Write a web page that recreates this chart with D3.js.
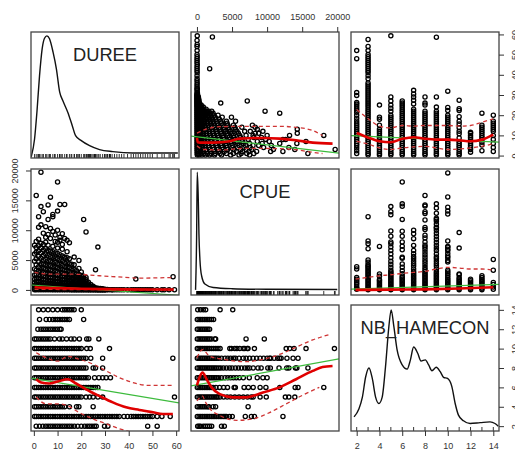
<!DOCTYPE html>
<html><head><meta charset="utf-8">
<script src="https://cdn.jsdelivr.net/npm/d3@7"></script>
<style>body{margin:0;background:#fff}svg{display:block}text{font-family:"Liberation Sans",Arial,sans-serif}</style>
</head><body><svg id="c" width="515" height="450"></svg>
<script>
const varNames = ["DUREE","CPUE","NB_HAMECON"];
const dureeTicks = [0,10,20,30,40,50,60];
const cpueTicks = [0,5000,10000,15000,20000];
const nbTicks = [2,4,6,8,10,12,14];

// DUREE values observed at each NB_HAMECON level
const dureeByNb = [
 [14,[2,4,6,8,10,12,13,14,15,16,17,20]],
 [13,[2.4,5.2,6.6,8,9,10,11,12,13,14,15,21]],
 [12,[1.7,3,4,5,6,7,8,9,10,11,11.5]],
 [11,[0.3,1,2,3,4,5,6,7,8.7,10.8,12,13.8,15.7,17,19.2,22.3,23.2,27.4]],
 [10,[0.3,1,2,3,4,5,6,7,8,9,10,11,12,13,14,15,16,17,18,19,20,22.3,23.8,31.9]],
 [9,[0.3,1,2,3,4,5,6,7,8,9,10,11,12,13,14,15,16,17,18,19,20,21,22,24,29,58.6]],
 [8,[0.3,1,2,3,4,5,6,7,8,9,10,11,12,13,14,15,16,17,18,19,20,21,22,25,26,29]],
 [7,[0.3,1,2,3,4,5,6,7,8,9,10,11,12,13,14,15,16,17,18,19,20,21,22,23,25.6,27.4,29,30.5,32.3]],
 [6,[0.3,1,2,3,4,5,6,7,8,9,10,11,12,13,14,15,16,17,18,19,20,21,22,23,24,25,26,27]],
 [5,[0.3,1,2,3,4,5,6,7,8,9,10,11,12,13,14,15,16,17,18,19,20,22,23.5,25,27,29,59.3]],
 [4,[0.3,1,2,3,4,5,6,7,8,9,10,11,12,13,15,18,19,25]],
 [3,[0.3,1,2,3,4,5,6,7,8,9,10,11,12,13,14,15,16,17,18,19,20,21,22,23,24,25,26,27,28,29,30,31,32,33,34,35,36,38,39.5,41,42,43,44,45,46,47,48,49,50,52,54,57.5]],
 [2,[1,2.4,3.8,5,6,7,8,9,10,11,12,13,14,15,16,17.1,18.5,20,21.4,22.5,23.5,24.5,25.5,26.3,29.8,31.2,48,52]]
];

// CPUE values observed at each DUREE value
const cpueByDuree = [
 [0.3,[50,300,700,1200,1800,2500,3500,4800,6000,7500]],
 [1,[30,250,600,1000,1500,2000,2600,3300,4200,5200,6300,7100,8100,15810]],
 [2,[20,200,500,900,1400,1900,2500,3100,3900,4700,5600,6500,7400,8500,10500,12250]],
 [3,[10,150,450,850,1300,1800,2400,3000,3700,4400,5300,6200,7000,7800,10900,13950,19700]],
 [4,[10,150,400,800,1200,1700,2300,2900,3600,4300,5000,5800,6700,7600,9500,13100]],
 [5,[10,120,380,750,1150,1650,2200,2800,3500,4200,5100,6000,6900,8000,8800,10600]],
 [6,[10,100,350,700,1100,1600,2100,2700,3400,4100,4900,5800,6600,7500,9300,11800,14240]],
 [7,[10,100,350,700,1100,1550,2050,2650,3300,4000,4800,5600,6500,8600,10300,15540]],
 [8,[10,90,330,650,1050,1500,2000,2600,3200,3900,4700,5500,6400,7300,9800,12250,12650]],
 [9,[10,90,300,600,1000,1450,1950,2500,3100,3800,4600,5300,6200,8100,9200]],
 [10,[10,80,280,580,950,1400,1900,2400,3000,3700,4400,5200,6100,7000,8000,10000,13200,18080]],
 [11,[10,80,260,550,900,1350,1800,2300,2900,3500,4300,5000,5900,8300,8800,14300]],
 [12,[10,70,240,520,860,1300,1750,2250,2800,3400,4100,4800,5700,6800,7600,9400]],
 [13,[10,70,220,500,830,1250,1700,2200,2700,3300,3900,4600,5500,8600,14300]],
 [14,[10,60,200,470,800,1200,1650,2100,2600,3200,3800,4500,5400,6400,8300]],
 [15,[10,60,180,450,770,1150,1600,2050,2500,3000,3700,4400,5200,7900]],
 [16,[10,50,160,420,740,1100,1500,1950,2400,2900,3500,4300]],
 [17,[10,50,150,400,700,1050,1450,1900,2300,2800,3400,4200,5500]],
 [18,[10,40,140,380,670,1000,1400,1800,2200,2700,3200]],
 [19,[10,40,130,350,640,950,1300,1700,2100,2600,3600,4915]],
 [20,[10,30,120,320,600,900,1250,1600,2000,2400,3000]],
 [21,[10,30,110,300,560,850,1200,1500,1900,2300,11800]],
 [22,[10,30,100,280,520,800,1100,1400,1700,2100,9710]],
 [23,[10,30,90,250,480,700,1000,1300]],
 [24,[10,20,80,220,430,650,900]],
 [25,[10,20,70,200,400,600]],
 [26,[10,20,60,180,350,3390]],
 [27,[10,20,50,150,300,7170]],
 [28,[10,20,40,130,250]],
 [29,[10,20,40,110,200]],
 [30,[10,20,30,100]],
 [31,[10,60]],[32,[20]],[33,[10,40]],[34,[20]],[35,[10]],[36,[30]],[37,[10]],[38,[20]],
 [39.5,[10]],[41,[30]],[42,[10]],[43,[20,1810]],[44,[10]],[45,[40]],[46,[10]],[47,[20]],
 [48,[10]],[49,[30]],[50,[10]],[52,[20]],[54,[10]],[55,[30]],[57,[10]],[58.7,[2200]],[59.3,[40]]
];

// CPUE values observed at each NB_HAMECON level
const cpueByNb = [
 [2,[100,300,500,900,1200,1500,1800,2100,3500,3900]],
 [3,[50,300,550,800,1050,1300,1550,1800,2050,2300,2550,2800,3050,3300,3550,3800,4000,4200,4630,5030,6890,7750,8190,12260]],
 [4,[50,300,550,800,1050,1300,1550,1700,2300,2660,7290]],
 [5,[50,300,550,800,1050,1300,1550,1800,2050,2300,2550,2800,3000,3300,3800,4300,4800,5400,6000,6600,7200,7740,8020,9000,9880,12600,13100,13950]],
 [6,[50,300,550,800,1050,1300,1550,1800,2050,2300,2700,3220,3800,4350,5300,5470,6720,7330,8020,9000,9830,11810,14000,14410,18080]],
 [7,[50,300,550,800,1050,1300,1550,1800,2050,2300,2550,2800,3100,3500,4000,4400,4800,5200,5600,6050,6610,7460,8590,9400,10000]],
 [8,[50,300,550,800,1050,1300,1550,1800,2050,2300,2550,2800,3100,3400,3780,4200,4630,5000,5470,5900,6330,6810,7170,7500,8020,8700,9150,10100,10460,11700,12800,13100,14040,14240,15820]],
 [9,[50,300,550,800,1050,1300,1550,1800,2050,2300,2550,2800,3100,3500,4000,4400,4800,5200,5500,6000,6600,7000,7500,8000,8500,9000,9500,10000,10350,10500,11000,11500,11800,12000,12830,13700,14410]],
 [10,[50,300,550,800,1050,1300,1550,1800,2100,2400,2700,3000,3300,4680,4920,5390,5700,6100,6600,6810,7170,7280,8190,12720,13230,13840,15550,19600]],
 [11,[50,300,550,800,1050,1300,1550,1800,2080,2550,2660,7000,9600]],
 [12,[50,300,550,800,1050,1300,1550,1800]],
 [13,[50,300,550,800,1050,1300,1550,1800,2080,2370]],
 [14,[110,500,900,1240,3300,5100]]
];

// linear fits [intercept, slope] (green lines)
const lmDureeOnCpue = [9.3,-0.000397];
const lmCpueOnDuree = [795,-27.7];
const lmDureeOnNb = [10.3,-0.25];
const lmNbOnDuree = [6.91,-0.0409];
const lmCpueOnNb = [25,62.5];
const lmNbOnCpue = [6.26,0.000132];

// smoothers (red solid) and spread lines (red dashed)
const smDureeOnCpue = [[0,8.8],[120,6.6],[425,6.4],[2310,6.4],[4680,7.1],[6100,8.4],[9400,8.7],[11770,8.4],[14130,7.6],[16500,6.4],[19330,5.9]];
const upDureeOnCpue = [[0,11.1],[1500,13.3],[3300,14.3],[7000,14.5],[11800,14.5],[14100,14.0],[16500,12.4],[17900,9.9]];
const loDureeOnCpue = [[0,4.8],[1000,3.0],[3300,2.8],[7000,3.6],[11800,3.4],[14100,2.9],[16500,1.6],[17900,1.0]];

const smCpueOnDuree = [[0.3,500],[3,380],[10,300],[20,200],[30,130],[40,90],[50,70],[59,60]];
const upCpueOnDuree = [[0.3,2930],[6.6,2650],[13.6,2650],[22,2540],[27.7,2370],[34.7,2200],[44.5,1980],[59.3,2090]];
const loCpueOnDuree = [[0.3,100],[20,50],[59,0]];

const smDureeOnNb = [[2,11.2],[2.93,9.1],[4,7.1],[5,6.6],[6,8.3],[7,9.1],[8,8.3],[9,7.9],[10,7.9],[11,7.6],[12,7.1],[13,7.9],[14,10.4]];
const upDureeOnNb = [[2,22.8],[2.9,18.7],[4,14.6],[5,13.7],[6,14.9],[7,14.6],[8,14.9],[9,14.9],[10,14.9],[11,14.6],[12,14.9],[13,16.5],[14,18.2]];
const loDureeOnNb = [[2,7.1],[2.9,5.9],[4,3.8],[5,3],[6,3.8],[7,4.3],[8,4.6],[9,3.8],[10,3],[11,3.3],[12,3.8],[13,4.6],[14,5.9]];

const smNbOnDuree = [[1,6.84],[3.1,6.5],[6.6,6.4],[10.1,6.6],[14.3,6.84],[17.8,6.4],[22,5.8],[27.7,5.1],[33.3,4.45],[38.9,3.94],[44.5,3.67],[50.2,3.43],[54.4,3.26],[58.6,3.26]];
const upNbOnDuree = [[1,9.57],[5.2,9.06],[10.1,8.7],[14.3,9.2],[19.2,8.9],[24.9,8.4],[30.5,7.7],[36.1,7.0],[41.7,6.5],[48.8,6.2],[58.6,6.2]];
const loNbOnDuree = [[1,5.0],[5.2,4.3],[10.1,4.3],[14.3,4.1],[19.2,3.4],[24.9,2.75],[30.5,2.24],[36.1,1.73],[41,1.4]];

const smCpueOnNb = [[1.9,0],[5,50],[8,100],[11,250],[14,450]];
const upCpueOnNb = [[1.9,1810],[2.9,2090],[4,2370],[5,2540],[6,2770],[7,2940],[8,3110],[9,3500],[10,3790],[11,3670],[12,3500],[13,3500],[14,3330]];

const smNbOnCpue = [[0,6.2],[400,7.1],[800,7.52],[1370,6.84],[2080,6.0],[3260,5.3],[5150,4.97],[7040,4.97],[9400,5.48],[11770,6.0],[14130,6.84],[16500,7.7],[17910,8.1],[19330,8.2]];
const upNbOnCpue = [[0,9.06],[800,9.9],[1840,9.2],[3740,8.9],[7040,8.65],[9400,8.9],[11770,9.4],[14130,10.15],[16500,10.9],[19100,11.5]];
const loNbOnCpue = [[0,4.6],[800,5.1],[1130,4.6],[1840,3.8],[3260,3.1],[5630,2.6],[7990,2.75],[10350,3.4],[12720,4.3],[15080,5.2],[17440,6.0]];

// diagonal densities (relative height 0..1)
const densDuree = [[-1.1,-0.015],[0.3,0.134],[1.3,0.361],[2.4,0.666],[3.5,0.891],[4.5,0.98],[5.5,1.0],[6.6,0.975],[8.1,0.863],[9.5,0.723],[10.9,0.527],[12.2,0.457],[14.3,0.359],[16.2,0.246],[17.6,0.162],[20,0.12],[23.5,0.078],[27.7,0.045],[33.3,0.028],[41.7,0.017],[50.2,0.017],[60.7,0.017]];
const densCpue = [[-200,0],[-50,0.45],[40,1.0],[190,0.77],[280,0.48],[430,0.25],[660,0.12],[1130,0.05],[2310,0.02],[5000,0.01],[10000,0.005],[20000,0.003]];
const densNb = [[1.77,0.08],[2.2,0.15],[2.5,0.25],[2.79,0.425],[3.08,0.5],[3.37,0.41],[3.66,0.25],[3.95,0.195],[4.24,0.25],[4.53,0.51],[4.83,0.86],[5.03,1.0],[5.26,0.86],[5.55,0.655],[6.0,0.526],[6.43,0.49],[6.72,0.57],[7.0,0.68],[7.36,0.627],[7.65,0.56],[8.03,0.57],[8.32,0.526],[8.61,0.477],[8.99,0.506],[9.34,0.468],[9.63,0.42],[9.98,0.41],[10.36,0.34],[10.65,0.195],[10.94,0.095],[11.38,0.046],[11.96,0.023],[12.84,0.03],[13.71,0.037],[14.15,0.023],[14.44,0]];

// ---------- drawing ----------
const svg = d3.select("#c");
const colX=[31,191,351], rowY=[32,169,305], W=148, H=126;
const domains=[[-1.2,61.2],[-850,20250],[1.5,14.5]];
const xs=domains.map((d,i)=>d3.scaleLinear().domain(d).range([colX[i],colX[i]+W]));
const ys=domains.map((d,i)=>d3.scaleLinear().domain(d).range([rowY[i]+H,rowY[i]]));

const pDC = cpueByDuree.flatMap(([d,cs])=>cs.map(c=>[d,c]));
const pDN = dureeByNb.flatMap(([n,ds])=>ds.map(d=>[d,n]));
const pCN = cpueByNb.flatMap(([n,cs])=>cs.map(c=>[c,n]));
const swap = a=>a.map(p=>[p[1],p[0]]);

const panels=[
 {r:0,c:1,pts:swap(pDC),lm:lmDureeOnCpue,sm:smDureeOnCpue,up:upDureeOnCpue,lo:loDureeOnCpue},
 {r:1,c:0,pts:pDC,lm:lmCpueOnDuree,sm:smCpueOnDuree,up:upCpueOnDuree,lo:loCpueOnDuree},
 {r:0,c:2,pts:swap(pDN),lm:lmDureeOnNb,sm:smDureeOnNb,up:upDureeOnNb,lo:loDureeOnNb},
 {r:2,c:0,pts:pDN,lm:lmNbOnDuree,sm:smNbOnDuree,up:upNbOnDuree,lo:loNbOnDuree},
 {r:1,c:2,pts:swap(pCN),lm:lmCpueOnNb,sm:smCpueOnNb,up:upCpueOnNb,lo:null},
 {r:2,c:1,pts:pCN,lm:lmNbOnCpue,sm:smNbOnCpue,up:upNbOnCpue,lo:loNbOnCpue}
];

const defs=svg.append("defs");
for(let r=0;r<3;r++)for(let c=0;c<3;c++){
  defs.append("clipPath").attr("id",`cp${r}${c}`).append("rect")
    .attr("x",colX[c]).attr("y",rowY[r]).attr("width",W).attr("height",H);
}

panels.forEach(p=>{
  const x=xs[p.c], y=ys[p.r];
  const g=svg.append("g").attr("clip-path",`url(#cp${p.r}${p.c})`);
  g.selectAll("circle").data(p.pts).join("circle")
    .attr("cx",d=>x(d[0])).attr("cy",d=>y(d[1])).attr("r",2.1)
    .attr("fill","none").attr("stroke","#000").attr("stroke-width",1.3);
  const xd=x.domain();
  g.append("line").attr("x1",x(xd[0])).attr("x2",x(xd[1]))
    .attr("y1",y(p.lm[0]+p.lm[1]*xd[0])).attr("y2",y(p.lm[0]+p.lm[1]*xd[1]))
    .attr("stroke","#3dbb3d").attr("stroke-width",1.2);
  const line=d3.line().x(d=>x(d[0])).y(d=>y(d[1])).curve(d3.curveMonotoneX);
  [p.up,p.lo].forEach(a=>{ if(a) g.append("path").attr("d",line(a)).attr("fill","none")
    .attr("stroke","#cf3535").attr("stroke-width",1.3).attr("stroke-dasharray","4,3"); });
  g.append("path").attr("d",line(p.sm)).attr("fill","none")
    .attr("stroke","#e00000").attr("stroke-width",2.6);
});

// diagonal panels
const dens=[densDuree,densCpue,densNb];
const rugVals=[
  Array.from(new Set(pDN.map(d=>d[0]).concat(pDC.map(d=>d[0])))),
  Array.from(new Set(pDC.map(d=>d[1]).concat(pCN.map(d=>d[0])))),
  nbTicks.concat([3,5,7,9,11,13])
];
const ranges=[
  d3.extent(pDN.map(d=>d[0]).concat(pDC.map(d=>d[0]))),
  d3.extent(pDC.map(d=>d[1]).concat(pCN.map(d=>d[0]))),
  [2,14]
];
for(let i=0;i<3;i++){
  const x=xs[i], y=ys[i];
  const g=svg.append("g").attr("clip-path",`url(#cp${i}${i})`);
  const [mn,mx]=ranges[i];
  const line=d3.line().x(d=>x(d[0])).y(d=>y(mn+d[1]*(mx-mn))).curve(d3.curveMonotoneX);
  g.append("path").attr("d",line(dens[i])).attr("fill","none").attr("stroke","#111").attr("stroke-width",1.4);
  const yb=rowY[i]+H;
  g.selectAll("line.rug").data(rugVals[i]).join("line").attr("class","rug")
    .attr("x1",d=>x(d)).attr("x2",d=>x(d)).attr("y1",yb).attr("y2",yb-4)
    .attr("stroke","#000").attr("stroke-width",0.8);
  svg.append("text").attr("x",colX[i]+W/2).attr("y",rowY[i]+22)
    .attr("text-anchor","middle").attr("dominant-baseline","central")
    .attr("font-size",18.3).attr("fill","#222").text(varNames[i]);
}

// boxes
for(let r=0;r<3;r++)for(let c=0;c<3;c++){
  svg.append("rect").attr("x",colX[c]).attr("y",rowY[r]).attr("width",W).attr("height",H)
    .attr("fill","none").attr("stroke","#444").attr("stroke-width",1.3);
}

// axes
function styleAxis(g){
  g.select(".domain").remove();
  g.selectAll(".tick line").attr("stroke","#333");
  g.selectAll(".tick text").attr("fill","#333").attr("font-size",9)
   .attr("font-family","'Liberation Sans',Arial,sans-serif");
}
const fmt=d3.format("d");
svg.append("g").attr("transform",`translate(0,${rowY[0]})`)
  .call(d3.axisTop(xs[1]).tickValues(cpueTicks).tickFormat(fmt).tickSize(5).tickSizeOuter(0))
  .call(styleAxis).call(g=>g.selectAll(".tick text").attr("y",-15).attr("dy",null).attr("dominant-baseline","central"));
[[0,dureeTicks],[2,nbTicks]].forEach(([c,t])=>{
  svg.append("g").attr("transform",`translate(0,${rowY[2]+H})`)
    .call(d3.axisBottom(xs[c]).tickValues(t).tickFormat(fmt).tickSize(5).tickSizeOuter(0))
    .call(styleAxis).call(g=>g.selectAll(".tick text").attr("y",15).attr("dy",null).attr("dominant-baseline","central"));
});
svg.append("g").attr("transform",`translate(${colX[0]},0)`)
  .call(d3.axisLeft(ys[1]).tickValues(cpueTicks).tickFormat(fmt).tickSize(5).tickSizeOuter(0))
  .call(styleAxis).call(g=>g.selectAll(".tick text").attr("x",0).attr("y",0).attr("dy",null)
     .attr("text-anchor","middle").attr("dominant-baseline","central").attr("transform","translate(-16,0) rotate(-90)"));
[[0,dureeTicks],[2,nbTicks]].forEach(([r,t])=>{
  svg.append("g").attr("transform",`translate(${colX[2]+W},0)`)
    .call(d3.axisRight(ys[r]).tickValues(t).tickFormat(fmt).tickSize(5).tickSizeOuter(0))
    .call(styleAxis).call(g=>g.selectAll(".tick text").attr("x",0).attr("y",0).attr("dy",null)
       .attr("text-anchor","middle").attr("dominant-baseline","central").attr("transform","translate(16,0) rotate(-90)"));
});
</script></body></html>
